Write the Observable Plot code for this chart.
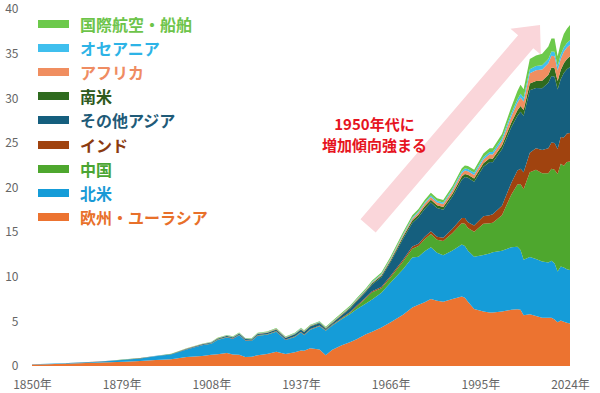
<!DOCTYPE html>
<html>
<head>
<meta charset="utf-8">
<script src="https://cdn.jsdelivr.net/npm/d3@7"></script>
<script src="https://cdn.jsdelivr.net/npm/@observablehq/plot@0.6"></script>
<style>
  html, body { margin: 0; padding: 0; background: #fff; }
  #wrap { position: relative; width: 600px; height: 393px; font-family: "Noto Sans CJK JP", sans-serif; }
  #legend { position: absolute; left: 38px; top: 12px; }
  .row { display: flex; align-items: center; height: 24.1px; }
  .sw { width: 31px; height: 8px; margin-right: 11px; }
  .lab { font-size: 16px; font-weight: 700; line-height: 24px; white-space: nowrap; }
</style>
</head>
<body>
<div id="wrap"><div id="legend"></div></div>
<script>
const years = [1850,1855,1860,1865,1870,1875,1880,1885,1890,1895,
  1900,1905,1908,1910,1913,1915,1917,1919,
  1921,1923,1926,1929,1932,1935,1937,1938,
  1940,1943,1945,1947,
  1950,1953,1955,1958,1960,1963,1966,
  1970,1973,1975,1977,1979,
  1981,1983,1986,1989,1990,1991,1993,1996,1998,1999,
  2002,2005,2007,2008,2009,
  2011,2013,2015,2017,2018,2019,2020,2021,2022,2023,2024];

const europe = [0.17,0.21,0.26,0.31,0.36,0.41,0.47,0.55,0.66,0.76,
  1.0,1.12,1.25,1.32,1.45,1.3,1.25,1.0,
  1.05,1.2,1.35,1.6,1.35,1.55,1.75,1.7,
  2.0,1.85,1.2,1.8,
  2.3,2.7,3.0,3.55,3.85,4.3,4.9,
  5.75,6.55,6.85,7.15,7.5,
  7.3,7.2,7.5,7.8,7.65,7.2,6.4,6.1,6.0,6.0,
  6.1,6.3,6.35,6.3,5.7,
  5.8,5.6,5.4,5.4,5.4,5.2,4.9,5.1,4.95,4.85,4.75];
const northAmerica = [0.03,0.04,0.05,0.06,0.10,0.15,0.23,0.30,0.42,0.52,
  0.85,1.2,1.25,1.6,1.75,1.75,2.2,1.85,
  1.75,2.2,2.15,2.25,1.55,1.7,2.0,1.75,
  2.05,2.6,2.75,2.7,
  2.9,3.15,3.35,3.45,3.6,3.9,4.45,
  5.1,5.6,5.4,5.7,5.8,
  5.4,5.2,5.45,5.8,5.8,5.7,5.85,6.35,6.6,6.75,
  6.8,7.0,7.0,6.7,6.2,
  6.4,6.4,6.3,6.2,6.4,6.3,5.7,6.05,6.1,6.0,6.0];
const china = [0,0,0,0,0,0,0,0,0,0,
  0.005,0.01,0.01,0.01,0.015,0.015,0.015,0.015,
  0.02,0.02,0.02,0.025,0.025,0.03,0.035,0.03,
  0.03,0.03,0.02,0.03,
  0.08,0.15,0.3,0.6,0.8,0.5,0.6,
  0.85,1.0,1.2,1.35,1.5,
  1.45,1.6,1.95,2.4,2.5,2.55,2.8,3.5,3.4,3.3,
  4.0,5.9,7.0,7.4,7.9,
  9.5,10.0,9.9,10.0,10.3,10.5,10.9,11.5,11.4,12.0,12.15];
const india = [0,0,0,0,0.005,0.005,0.01,0.01,0.01,0.015,
  0.02,0.025,0.03,0.03,0.035,0.035,0.035,0.035,
  0.035,0.04,0.04,0.045,0.045,0.05,0.05,0.05,
  0.055,0.06,0.06,0.065,
  0.07,0.08,0.09,0.11,0.12,0.15,0.17,
  0.2,0.23,0.25,0.28,0.3,
  0.33,0.38,0.48,0.58,0.62,0.65,0.7,0.82,0.9,0.95,
  1.05,1.3,1.55,1.7,1.9,
  2.2,2.4,2.6,2.8,2.95,3.0,2.8,3.0,3.15,3.2,3.2];
const otherAsia = [0,0.005,0.01,0.01,0.01,0.015,0.02,0.02,0.03,0.035,
  0.05,0.07,0.08,0.09,0.1,0.1,0.12,0.12,
  0.11,0.12,0.13,0.15,0.16,0.2,0.24,0.26,
  0.28,0.26,0.12,0.15,
  0.27,0.4,0.5,0.6,0.75,1.1,1.55,
  2.35,2.65,2.98,3.12,3.21,
  3.21,3.12,3.6,4.3,4.6,4.98,4.89,5.55,5.97,5.83,
  6.33,6.25,6.15,6.38,6.33,
  7.0,6.74,6.92,7.33,7.45,7.4,6.67,6.47,7.23,7.2,7.4];
const southAmerica = [0,0,0,0,0,0.002,0.003,0.005,0.007,0.01,
  0.015,0.02,0.025,0.03,0.035,0.03,0.03,0.03,
  0.035,0.04,0.045,0.05,0.045,0.05,0.055,0.055,
  0.06,0.065,0.07,0.075,
  0.08,0.09,0.1,0.12,0.14,0.16,0.18,
  0.22,0.26,0.27,0.3,0.32,
  0.32,0.31,0.33,0.35,0.35,0.36,0.37,0.39,0.4,0.4,
  0.42,0.5,0.6,0.65,0.65,
  0.75,0.8,0.85,0.9,0.95,1.0,0.95,1.05,1.1,1.15,1.2];
const africa = [0,0,0,0,0,0.002,0.003,0.004,0.005,0.007,
  0.01,0.015,0.02,0.02,0.025,0.025,0.025,0.025,
  0.03,0.03,0.035,0.04,0.04,0.045,0.05,0.05,
  0.05,0.05,0.055,0.06,
  0.06,0.07,0.08,0.09,0.1,0.12,0.14,
  0.18,0.22,0.24,0.27,0.3,
  0.32,0.33,0.35,0.38,0.38,0.39,0.4,0.43,0.45,0.47,
  0.52,0.7,0.85,0.95,0.95,
  1.15,1.2,1.25,1.28,1.3,1.3,1.2,1.25,1.28,1.3,1.3];
const oceania = [0,0,0,0,0.002,0.003,0.004,0.005,0.008,0.01,
  0.015,0.015,0.02,0.02,0.025,0.025,0.025,0.025,
  0.025,0.03,0.03,0.035,0.03,0.035,0.04,0.04,
  0.04,0.04,0.04,0.04,
  0.04,0.045,0.05,0.06,0.07,0.08,0.09,
  0.11,0.13,0.14,0.15,0.17,
  0.18,0.18,0.2,0.22,0.22,0.23,0.24,0.26,0.27,0.28,
  0.3,0.35,0.4,0.42,0.42,
  0.45,0.46,0.48,0.49,0.5,0.5,0.48,0.48,0.49,0.5,0.5];
const bunkers = [0,0,0,0,0,0,0.005,0.008,0.01,0.015,
  0.02,0.03,0.03,0.04,0.05,0.04,0.04,0.04,
  0.05,0.05,0.06,0.07,0.06,0.07,0.07,0.07,
  0.07,0.06,0.07,0.09,
  0.1,0.11,0.12,0.13,0.15,0.17,0.2,
  0.24,0.26,0.27,0.28,0.3,
  0.29,0.28,0.3,0.33,0.34,0.34,0.35,0.4,0.41,0.42,
  0.48,0.7,0.9,1.0,0.95,
  1.15,1.2,1.3,1.4,1.45,1.5,1.1,1.3,1.5,1.6,1.7];

const regions = ["欧州・ユーラシア","北米","中国","インド","その他アジア","南米","アフリカ","オセアニア","国際航空・船舶"];
const areaColors = ["#ec7330","#159cd8","#4ea72e","#a0430f","#155f7e","#2f6b1f","#f08e60","#3fbfee","#6cc94b"];
const textColors = ["#e8702a","#1a9ad6","#4aa532","#8b3a0f","#1f5b78","#2e5a1c","#ef8c62","#2db3e6","#6dc44a"];
const series = [europe, northAmerica, china, india, otherAsia, southAmerica, africa, oceania, bunkers];

const xTicks = [1850,1879,1908,1937,1966,1995,2024];
const yTicks = [0,5,10,15,20,25,30,35,40];

const noteLines = ["1950年代に", "増加傾向強まる"];
const noteYear = 1960.6;
const noteValues = [27.05, 24.7];
const arrowFrom = {year: 1958.7, value: 15.7};
const arrowTo = {year: 2014.3, value: 38.2};

const table = years.flatMap((yr, i) => regions.map((r, k) => ({year: yr, region: r, value: series[k][i]})));

const plot = Plot.plot({
  width: 600, height: 393,
  marginLeft: 32, marginRight: 30, marginTop: 9, marginBottom: 27,
  style: {fontFamily: "'Noto Sans CJK JP', sans-serif", fontSize: "12px", color: "#666666", background: "transparent"},
  x: {domain: [1850, 2024], ticks: xTicks, tickFormat: d => d + "年", tickSize: 0, tickPadding: 14, label: null},
  y: {domain: [0, 40], ticks: yTicks, tickSize: 0, tickPadding: 14, label: null},
  color: {domain: regions, range: areaColors},
  marks: [
    Plot.areaY(table, {x: "year", y: "value", fill: "region", z: "region", order: regions}),
    Plot.text(noteLines, {x: () => noteYear, y: (d, i) => noteValues[i], text: d => d, lineHeight: 1,
      fill: "#e6141e", fontWeight: "bold", fontSize: 15, fontFamily: "'Noto Sans CJK JP', sans-serif"})
  ]
});

// pink arrow behind the areas
const sx = plot.scale("x"), sy = plot.scale("y");
const x0 = sx.apply(arrowFrom.year), y0 = sy.apply(arrowFrom.value);
const x1 = sx.apply(arrowTo.year), y1 = sy.apply(arrowTo.value);
const L = Math.hypot(x1 - x0, y1 - y0);
const ux = (x1 - x0) / L, uy = (y1 - y0) / L;
const px = -uy, py = ux;
const sw = 10, hw = 20, hl = 22;
const bx = x1 - ux * hl, by = y1 - uy * hl;
const pts = [
  [x0 + px * sw, y0 + py * sw],
  [bx + px * sw, by + py * sw],
  [bx + px * hw, by + py * hw],
  [x1, y1],
  [bx - px * hw, by - py * hw],
  [bx - px * sw, by - py * sw],
  [x0 - px * sw, y0 - py * sw]
];
const poly = document.createElementNS("http://www.w3.org/2000/svg", "polygon");
poly.setAttribute("points", pts.map(p => p.join(",")).join(" "));
poly.setAttribute("fill", "#fad6da");
plot.insertBefore(poly, plot.querySelector("style") ? plot.querySelector("style").nextSibling : plot.firstChild);

const wrap = document.getElementById("wrap");
wrap.insertBefore(plot, wrap.firstChild);

const legend = document.getElementById("legend");
for (let k = regions.length - 1; k >= 0; k--) {
  const row = document.createElement("div");
  row.className = "row";
  row.innerHTML = `<div class="sw" style="background:${areaColors[k]}"></div><span class="lab" style="color:${textColors[k]}">${regions[k]}</span>`;
  legend.appendChild(row);
}
</script>
</body>
</html>
